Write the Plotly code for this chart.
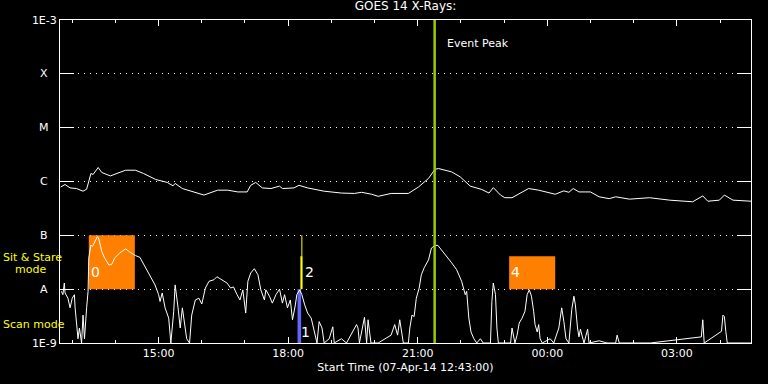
import math
import pandas as pd
import plotly.graph_objects as go

# ---------------- data ----------------
START = "2014-04-07 12:43"
END = "2014-04-08 04:43"

# long channel (1-8 A): minutes after start, flux W/m^2
long_min = [1, 7, 14, 23, 32, 37, 43, 46, 53, 58,
            70, 81, 91, 105, 116, 133, 149, 157, 160, 170,
            186, 200, 219, 233, 247, 260, 265, 272, 281, 293,
            305, 309, 325, 332, 344, 367, 391, 409, 419, 433,
            442, 460, 484, 498, 512, 521, 526, 544, 556, 570,
            586, 596, 602, 612, 618, 628, 651, 665, 688, 700,
            707, 713, 721, 737, 749, 763, 772, 791, 819, 847,
            879, 893, 900, 916, 923, 935, 960]
long_flux = [7.9e-7, 8.8e-7, 7.6e-7, 7.4e-7, 6.6e-7, 7.2e-7, 1.41e-6, 1.35e-6, 1.82e-6, 1.47e-6,
             1.27e-6, 1.44e-6, 1.62e-6, 1.62e-6, 1.41e-6, 1.09e-6, 9.6e-7, 8.3e-7, 9.2e-7, 7.4e-7,
             6.4e-7, 5.6e-7, 6.9e-7, 6.9e-7, 6.4e-7, 6.4e-7, 8.5e-7, 9.6e-7, 7.6e-7, 7.4e-7,
             8.2e-7, 7.4e-7, 7.6e-7, 8.5e-7, 7.6e-7, 6.6e-7, 6.1e-7, 6.0e-7, 6.3e-7, 5.8e-7,
             5.3e-7, 6.0e-7, 6.0e-7, 7.9e-7, 1.14e-6, 1.69e-6, 1.74e-6, 1.51e-6, 1.22e-6, 8.2e-7,
             7.1e-7, 6.1e-7, 7.7e-7, 5.6e-7, 5.0e-7, 5.0e-7, 7.4e-7, 6.9e-7, 5.8e-7, 6.7e-7,
             6.3e-7, 7.4e-7, 6.4e-7, 6.4e-7, 5.2e-7, 4.8e-7, 5.2e-7, 4.7e-7, 5.0e-7, 4.5e-7,
             4.2e-7, 5.4e-7, 4.3e-7, 4.5e-7, 5.6e-7, 4.5e-7, 4.3e-7]

# short channel (0.5-4 A)
short_min = [2, 4, 6, 7, 11, 14, 17, 20, 21, 23,
             25, 27, 30, 32, 34, 37, 39, 40, 43, 45,
             48, 52, 54, 58, 62, 68, 72, 76, 83, 91,
             97, 105, 111, 118, 125, 132, 137, 139, 142, 146,
             151, 154, 158, 160, 164, 167, 170, 173, 176, 180,
             183, 188, 193, 197, 202, 207, 214, 218, 225, 232,
             237, 241, 246, 250, 254, 258, 261, 265, 270, 275,
             279, 284, 286, 291, 295, 300, 305, 309, 312, 316,
             320, 323, 327, 329, 333, 336, 340, 344, 349, 353,
             357, 360, 364, 367, 374, 379, 381, 391, 398, 412,
             414, 416, 423, 426, 428, 432, 442, 460, 465, 469,
             472, 477, 484, 486, 489, 492, 495, 499, 502, 506,
             512, 516, 521, 525, 530, 537, 544, 551, 558, 563,
             565, 568, 571, 575, 579, 584, 588, 598, 600, 602,
             605, 607, 609, 626, 628, 632, 635, 638, 642, 646,
             649, 652, 655, 658, 660, 663, 665, 667, 670, 681,
             686, 693, 697, 700, 703, 707, 711, 714, 716, 719,
             721, 723, 726, 728, 733, 735, 749, 760, 772, 774,
             777, 820, 891, 893, 895, 919, 921, 923, 925, 927,
             960]
short_flux = [9.1e-9, 7.9e-9, 1.3e-8, 8.5e-9, 6.8e-9, 4.5e-9, 6.8e-9, 7.9e-9, 4.5e-9, 2.5e-9,
              1.2e-9, 1.9e-9, 1e-9, 3.3e-9, 1.2e-9, 4.5e-9, 9.1e-9, 3.8e-8, 6.6e-8, 6.2e-8,
              7.7e-8, 9.5e-8, 8.5e-8, 5.0e-8, 3.8e-8, 2.8e-8, 2.9e-8, 3.8e-8, 4.7e-8, 5.6e-8,
              4.9e-8, 4.2e-8, 3.9e-8, 2.65e-8, 1.85e-8, 1.2e-8, 7.9e-9, 5.9e-9, 8.5e-9, 4.5e-9,
              2.9e-9, 1e-9, 3.9e-9, 1.2e-8, 4.5e-9, 1.9e-9, 4.5e-9, 2.2e-9, 1.2e-9, 1e-9,
              3.3e-9, 6.3e-9, 6.8e-9, 5.3e-9, 1.05e-8, 1.4e-8, 1.5e-8, 1.7e-8, 1.5e-8, 1.3e-8,
              1.05e-8, 1.1e-8, 7.9e-9, 6.3e-9, 9.7e-9, 3.6e-9, 1.4e-8, 2.0e-8, 2.4e-8, 1.85e-8,
              9.7e-9, 6.3e-9, 9.7e-9, 7.4e-9, 5.5e-9, 7.9e-9, 1.0e-8, 5.5e-9, 7.9e-9, 4.5e-9,
              6.3e-9, 2.7e-9, 5.1e-9, 7.9e-9, 9.7e-9, 7.9e-9, 5.1e-9, 3.6e-9, 2.9e-9, 1.65e-9,
              1e-9, 2.5e-9, 1.9e-9, 1e-9, 1.2e-9, 2.0e-9, 1e-9, 1.2e-9, 1e-9, 2.2e-9,
              1.9e-9, 1e-9, 3.0e-9, 1e-9, 2.7e-9, 1e-9, 1e-9, 1.4e-9, 2.2e-9, 1.4e-9,
              2.7e-9, 1e-9, 1e-9, 1.9e-9, 3.3e-9, 3.1e-9, 6.8e-9, 1.05e-8, 1.85e-8, 2.5e-8,
              3.5e-8, 5.8e-8, 6.5e-8, 6.5e-8, 5.4e-8, 4.1e-8, 3.1e-8, 2.3e-8, 1.4e-8, 7.9e-9,
              9.1e-9, 2.9e-9, 1.6e-9, 1.2e-9, 1e-9, 1.2e-9, 1e-9, 1e-9, 5.9e-9, 1.3e-8,
              7.9e-9, 1.9e-9, 1e-9, 1e-9, 1.9e-9, 1e-9, 1.4e-9, 2.35e-9, 2.9e-9, 3.9e-9,
              7.9e-9, 9.7e-9, 7.4e-9, 3.9e-9, 2.2e-9, 1.6e-9, 2.2e-9, 1.2e-9, 1e-9, 1.2e-9,
              1e-9, 1.9e-9, 4.5e-9, 2.5e-9, 1.2e-9, 1e-9, 4.2e-9, 7.4e-9, 5.1e-9, 1.9e-9,
              1.3e-9, 1.8e-9, 1.2e-9, 1e-9, 1.8e-9, 1e-9, 1.1e-9, 1e-9, 1e-9, 1.4e-9,
              1e-9, 1e-9, 1.3e-9, 2.7e-9, 1e-9, 1.65e-9, 3.3e-9, 3.1e-9, 1.65e-9, 1e-9,
              1e-9]

# y-axis levels
level_vals = [1e-9, 1e-8, 1e-7, 1e-6, 1e-5, 1e-4, 1e-3]
level_ticktext = ["1E-9", "", "", "", "", "", "1E-3"]
class_names = ["A", "B", "C", "M", "X"]
class_vals = [1e-8, 1e-7, 1e-6, 1e-5, 1e-4]

# orange observation boxes: label, start min, end min, low flux, high flux
box_labels = ["0", "4"]
box_start = [40, 624]
box_end = [104, 688]
box_low = [1e-8, 1e-8]
box_high = [1e-7, 4.1e-8]

# mode bars
scan_bar = dict(label="1", t0=330, t1=335, lo=1e-9, hi=1e-8)
stare_bar = dict(label="2", t0=334, t1=337, lo=1e-8, hi=4.1e-8)
stare_tick = dict(label="3", t=336, lo=4.1e-8, hi=1e-7)

event_peak_min = 520.5

# ---------------- figure ----------------
t0 = pd.Timestamp(START)


def T(m):
    return t0 + pd.Timedelta(minutes=float(m))


FONT = "DejaVu Sans"
WHITE = "#ffffff"
YEL = "#ffff00"

fig = go.Figure()
fig.add_trace(go.Scatter(x=[T(m) for m in long_min], y=long_flux, mode="lines",
                         line=dict(color=WHITE, width=1), name="1-8 A", showlegend=False))
fig.add_trace(go.Scatter(x=[T(m) for m in short_min], y=short_flux, mode="lines",
                         line=dict(color=WHITE, width=1), name="0.5-4 A", showlegend=False))

shapes = []
annotations = []
for lab, s, e, lo, hi in zip(box_labels, box_start, box_end, box_low, box_high):
    shapes.append(dict(type="rect", xref="x", yref="y", x0=T(s), x1=T(e), y0=lo, y1=hi,
                       fillcolor="#ff8000", line=dict(width=0), layer="between"))
    annotations.append(dict(x=T(s), y=-7.68, xref="x", yref="y", text=lab, showarrow=False,
                            xanchor="left", xshift=0, font=dict(color=WHITE, size=14, family=FONT)))

shapes.append(dict(type="rect", xref="x", yref="y", x0=T(scan_bar["t0"]), x1=T(scan_bar["t1"]),
                   y0=scan_bar["lo"], y1=scan_bar["hi"], fillcolor="#6464ff",
                   line=dict(width=0), layer="between"))
shapes.append(dict(type="rect", xref="x", yref="y", x0=T(stare_bar["t0"]), x1=T(stare_bar["t1"]),
                   y0=stare_bar["lo"], y1=stare_bar["hi"], fillcolor=YEL,
                   line=dict(width=0), layer="between"))
shapes.append(dict(type="line", xref="x", yref="y", x0=T(stare_tick["t"]), x1=T(stare_tick["t"]),
                   y0=stare_tick["lo"], y1=stare_tick["hi"], line=dict(color=YEL, width=1),
                   layer="between"))
annotations.append(dict(x=T(scan_bar["t1"]), y=-8.8, xref="x", yref="y", text=scan_bar["label"],
                        showarrow=False, xanchor="left", xshift=-2,
                        font=dict(color=WHITE, size=14, family=FONT)))
annotations.append(dict(x=T(stare_bar["t1"]), y=-7.68, xref="x", yref="y", text=stare_bar["label"],
                        showarrow=False, xanchor="left", xshift=0,
                        font=dict(color=WHITE, size=14, family=FONT)))

# event peak
shapes.append(dict(type="line", xref="x", yref="paper", x0=T(event_peak_min), x1=T(event_peak_min),
                   y0=0, y1=1, line=dict(color="#99cc00", width=2.5), layer="above"))
annotations.append(dict(x=T(event_peak_min), y=-3.44, xref="x", yref="y", text="Event Peak",
                        showarrow=False, xanchor="left", xshift=10,
                        font=dict(color=WHITE, size=11, family=FONT)))

# class letters
for name, v in zip(class_names, class_vals):
    annotations.append(dict(x=-0.023, y=math.log10(v), xref="paper", yref="y",
                            text=name, showarrow=False, xanchor="center",
                            font=dict(color=WHITE, size=11, family=FONT)))

# mode labels
annotations.append(dict(x=-0.085, y=-7.42, xref="paper", yref="y", text="Sit & Stare",
                        showarrow=False, xanchor="left",
                        font=dict(color=YEL, size=11, family=FONT)))
annotations.append(dict(x=-0.068, y=-7.64, xref="paper", yref="y", text="mode", showarrow=False,
                        xanchor="left", font=dict(color=YEL, size=11, family=FONT)))
annotations.append(dict(x=-0.085, y=-8.65, xref="paper", yref="y", text="Scan mode",
                        showarrow=False, xanchor="left",
                        font=dict(color=YEL, size=11, family=FONT)))

fig.update_layout(
    width=768, height=384,
    margin=dict(l=60, r=17, t=20, b=41),
    paper_bgcolor="black", plot_bgcolor="black",
    font=dict(family=FONT, color=WHITE, size=11),
    title=dict(text="GOES 14 X-Rays:", x=0.5, xref="paper", y=1, yref="container",
               yanchor="top", pad=dict(t=2),
               font=dict(size=12, color=WHITE, family=FONT)),
    shapes=shapes, annotations=annotations, showlegend=False,
)
fig.update_xaxes(
    type="date", range=[T(0), pd.Timestamp(END)], automargin=False,
    showline=True, linecolor=WHITE, linewidth=1, mirror="allticks",
    ticks="inside", ticklen=6, tickcolor=WHITE, tickwidth=1,
    tick0="2014-04-07 15:00", dtick=3 * 3600 * 1000, tickformat="%H:%M",
    minor=dict(ticks="inside", ticklen=3, tickcolor=WHITE, dtick=3600 * 1000,
               tick0="2014-04-07 13:00", showgrid=False),
    showgrid=False, zeroline=False,
    title=dict(text="Start Time (07-Apr-14 12:43:00)", standoff=4, font=dict(size=11, color=WHITE)),
    tickfont=dict(size=11, color=WHITE),
)
fig.update_yaxes(
    type="log", range=[-9, -3], automargin=False,
    tickvals=level_vals, ticktext=level_ticktext,
    showline=True, linecolor=WHITE, linewidth=1, mirror="allticks",
    ticks="inside", ticklen=14, tickcolor=WHITE, tickwidth=1,
    showgrid=True, gridcolor=WHITE, gridwidth=1, griddash="1px,5px",
    zeroline=False, tickfont=dict(size=11, color=WHITE),
)

fig.write_html("out.html", config={"displayModeBar": False},
               post_script="document.body.style.margin='0px';")
